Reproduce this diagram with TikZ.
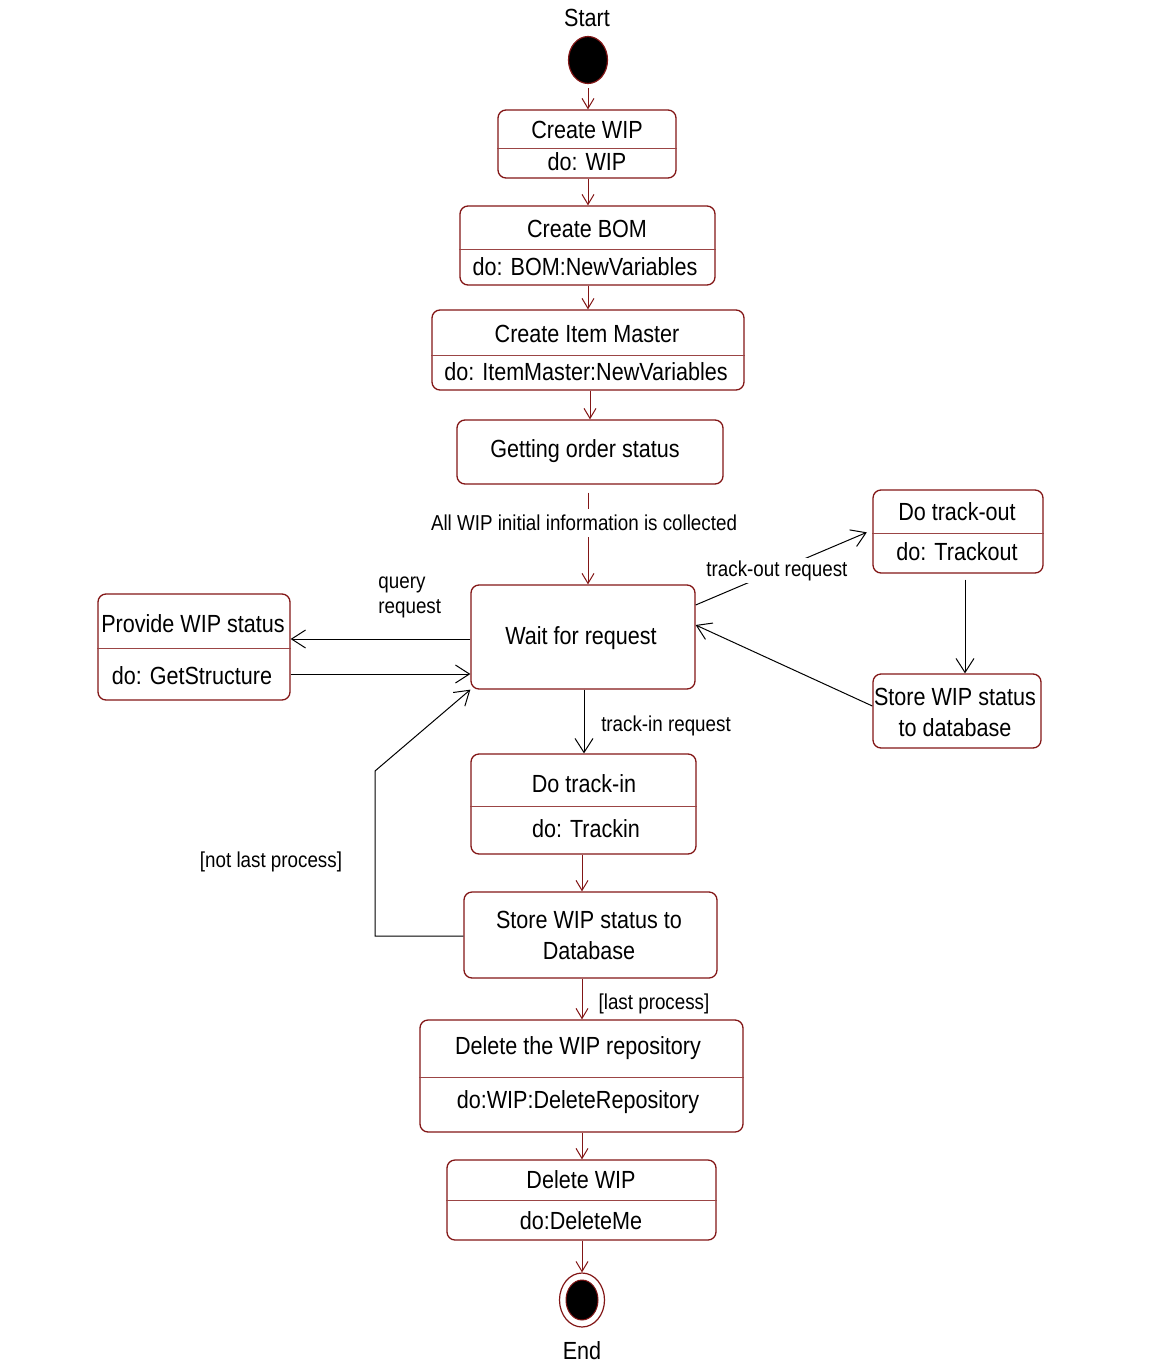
\documentclass[tikz,border=0pt]{standalone}
\usepackage{fontspec}
\setmainfont{Liberation Sans}[FakeStretch=0.87]
\usetikzlibrary{arrows.meta,fit,shapes.geometric}

\definecolor{umlred}{RGB}{130,22,22}

\begin{document}
\begin{tikzpicture}[x=0.5pt,y=-0.5pt,
  state/.style={draw=umlred, line width=0.65pt, rounded corners=4pt, inner sep=0pt},
  txt/.style={font=\fontsize{12.4}{15.5}\selectfont, inner sep=1pt, align=center},
  lbl/.style={font=\fontsize{10.8}{12.5}\selectfont, inner sep=1pt},
  divider/.style={draw=umlred!80, line width=0.45pt},
  flow/.style={draw=umlred, line width=0.5pt, -{Straight Barb[length=5pt,width=6pt]}},
  req/.style={draw=black, line width=0.5pt, -{Straight Barb[length=7pt,width=9pt]}}]
\useasboundingbox (0,0) rectangle (1156,1365);

% start / end
\node[txt] (startlbl) at (587,18) {Start};
\node[ellipse, draw=umlred, fill=black, line width=0.6pt, minimum width=19.5pt, minimum height=23.5pt, inner sep=0pt] (start) at (588,60) {};
\node[ellipse, draw=umlred, line width=0.6pt, minimum width=22.5pt, minimum height=27pt, inner sep=0pt] (end) at (582,1300) {};
\node[ellipse, draw=umlred, fill=black, line width=0.5pt, minimum width=16pt, minimum height=20pt, inner sep=0pt] (endin) at (582,1300) {};
\node[txt] (endlbl) at (582,1351) {End};

% main chain
\node[state, fit={(498,110) (676,178)}] (cwip) {};
\draw[divider] (cwip.west |- 0,148) -- (cwip.east |- 0,148);
\node[txt] (cwipA) at (587,130) {Create WIP};
\node[txt] (cwipB) at (587,162) {do: WIP};

\node[state, fit={(460,206) (715,285)}] (cbom) {};
\draw[divider] (cbom.west |- 0,249) -- (cbom.east |- 0,249);
\node[txt] (cbomA) at (587,229) {Create BOM};
\node[txt] (cbomB) at (585,267) {do: BOM:NewVariables};

\node[state, fit={(432,310) (744,390)}] (citem) {};
\draw[divider] (citem.west |- 0,355) -- (citem.east |- 0,355);
\node[txt] (citemA) at (587,334) {Create Item Master};
\node[txt] (citemB) at (586,372) {do: ItemMaster:NewVariables};

\node[state, fit={(457,420) (723,484)}] (getorder) {};
\node[txt] (getorderA) at (585,451) {Getting order status};

\node[state, fit={(471,585) (695,689)}] (wait) {};
\node[txt] (waitA) at (581,638) {Wait for request};

\node[state, fit={(98,594) (290,700)}] (provide) {};
\draw[divider] (provide.west |- 0,648) -- (provide.east |- 0,648);
\node[txt] (provideA) at (193,624) {Provide WIP status};
\node[txt] (provideB) at (192,676) {do: GetStructure};

\node[state, fit={(873,490) (1043,573)}] (trackout) {};
\draw[divider] (trackout.west |- 0,533) -- (trackout.east |- 0,533);
\node[txt] (trackoutA) at (957,512) {Do track-out};
\node[txt] (trackoutB) at (957,552) {do: Trackout};

\node[state, fit={(873,674) (1041,748)}] (storeout) {};
\node[txt] (storeoutA) at (955,712) {Store WIP status\\to database};

\node[state, fit={(471,754) (696,854)}] (trackin) {};
\draw[divider] (trackin.west |- 0,806) -- (trackin.east |- 0,806);
\node[txt] (trackinA) at (584,784) {Do track-in};
\node[txt] (trackinB) at (586,829) {do: Trackin};

\node[state, fit={(464,892) (717,978)}] (storein) {};
\node[txt] (storeinA) at (589,935) {Store WIP status to\\Database};

\node[state, fit={(420,1020) (743,1132)}] (delrepo) {};
\draw[divider] (delrepo.west |- 0,1077) -- (delrepo.east |- 0,1077);
\node[txt] (delrepoA) at (578,1048) {Delete the WIP repository};
\node[txt] (delrepoB) at (578,1102) {do:WIP:DeleteRepository};

\node[state, fit={(447,1160) (716,1240)}] (delwip) {};
\draw[divider] (delwip.west |- 0,1200) -- (delwip.east |- 0,1200);
\node[txt] (delwipA) at (581,1180) {Delete WIP};
\node[txt] (delwipB) at (581,1221) {do:DeleteMe};

% labels
\node[lbl, align=left, anchor=west] (querylbl) at (376,597) {query\\request};
\node[lbl] (inlbl) at (666,726) {track-in request};
\node[lbl] (notlastlbl) at (271,862) {[not last process]};
\node[lbl] (lastlbl) at (654,1004) {[last process]};
\coordinate (loopbend) at (375,771);

% transitions
\draw[flow, shorten <=2pt] (start.south) -- (start.south |- cwip.north);
\draw[flow] (cwip.south -| 588,0) -- (cbom.north -| 588,0);
\draw[flow] (cbom.south -| 588,0) -- (citem.north -| 588,0);
\draw[flow] (citem.south -| 590,0) -- (getorder.north -| 590,0);
\draw[flow] (getorder.south -| 588,0) ++(0,8) -- node[lbl, fill=white, pos=0.33, xshift=-2pt, inner sep=3pt] (collectedlbl) {All WIP initial information is collected} (wait.north -| 588,0);
\draw[req] (wait.west |- 0,639) -- (provide.east |- 0,639);
\draw[req] (provide.east |- 0,674) -- (wait.west |- 0,674);
\draw[req, shorten >=3pt] (wait.east |- 0,605) -- node[lbl, fill=white, pos=0.46] (outlbl) {track-out request} (trackout.west |- 0,530);
\draw[req, shorten <=3pt] (trackout.south -| 965,0) -- (storeout.north -| 965,0);
\draw[req] (storeout.west |- 0,706) -- (wait.east |- 0,625);
\draw[req] (wait.south -| 584,0) -- (trackin.north -| 584,0);
\draw[flow] (trackin.south -| 582,0) -- (storein.north -| 582,0);
\draw[req] (storein.west |- 0,936) -| (loopbend) -- (wait.south west);
\draw[flow] (storein.south -| 582,0) -- (delrepo.north -| 582,0);
\draw[flow] (delrepo.south -| 582,0) -- (delwip.north -| 582,0);
\draw[flow] (delwip.south -| 582,0) -- (end.north);
\end{tikzpicture}
\end{document}
